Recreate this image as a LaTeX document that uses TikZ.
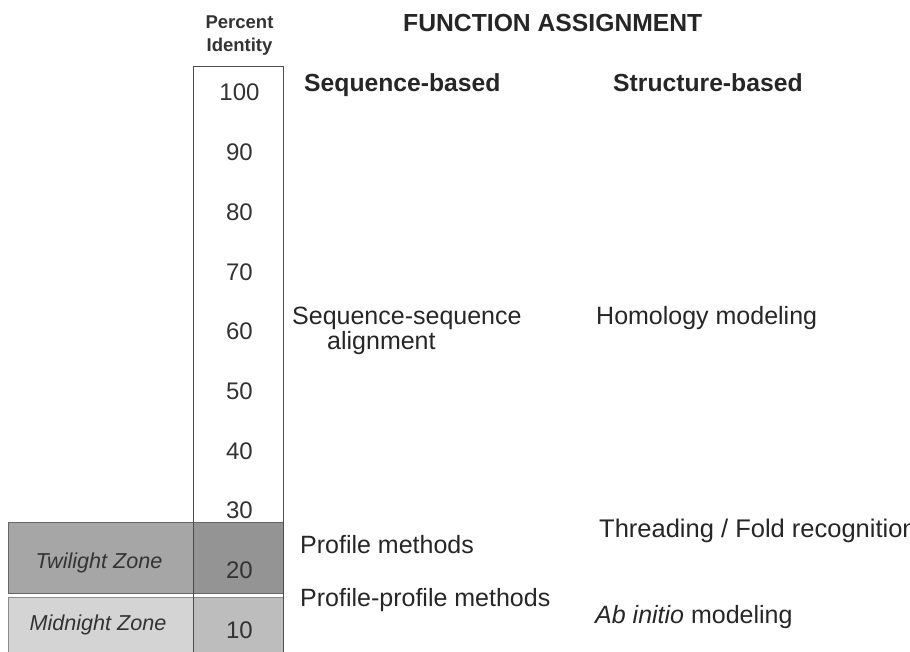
\documentclass[tikz,border=0pt]{standalone}
\usepackage{fontspec}
\setmainfont{Liberation Sans}
\begin{document}
\begin{tikzpicture}[x=1pt,y=-1pt,
  txt/.style={inner sep=0pt, anchor=base west, font=\fontsize{25}{29}\selectfont, text=black!85},
  hdr/.style={inner sep=0pt, anchor=base west, font=\fontsize{24.7}{29}\bfseries\selectfont, text=black!85},
  num/.style={inner sep=0pt, anchor=base, font=\fontsize{24}{28}\selectfont, text=black!80},
  zone/.style={inner sep=0pt, anchor=base, font=\fontsize{21.6}{26}\itshape\selectfont, text=black!80},
  frame/.style={draw=black!70, line width=0.9pt}]
\clip (0,0) rectangle (910,652);
\fill[white] (0,0) rectangle (910,652);

% identity scale column
\fill[white] (193,66) rectangle (283,660);
% zone bands
\fill[black!35] (8,522) rectangle (283,593);
\fill[black!42] (193,522) rectangle (283,593);
\fill[black!17] (8,597) rectangle (283,660);
\fill[black!26] (193,597) rectangle (283,660);
\draw[draw=black!60, line width=0.9pt] (8,522) rectangle (283,593);
\draw[draw=black!45, line width=0.9pt] (8,597) rectangle (283,660);
\draw[frame] (193,660) -- (193,66) -- (283,66) -- (283,660);

% column header
\node[inner sep=0pt, anchor=base, font=\fontsize{18.5}{23}\bfseries\selectfont, text=black!80] (pct) at (239.5,29) {Percent};
\node[inner sep=0pt, anchor=base, font=\fontsize{18.5}{23}\bfseries\selectfont, text=black!80] (idt) at (239.5,52) {Identity};
\node[hdr] (head) at (403,32) {FUNCTION ASSIGNMENT};

% scale values
\foreach \v [count=\i from 0] in {100,90,80,70,60,50,40,30,20,10}
  \node[num] (n\v) at (239.5,{101+59.67*\i}) {\v};

% method columns
\node[hdr] (seqb) at (304,92) {Sequence-based};
\node[hdr] (strb) at (613,92) {Structure-based};

\node[txt] (ssa) at (292,324) {Sequence-sequence};
\node[txt] (ali) at (327,349) {alignment};
\node[txt] (hom) at (596,324) {Homology modeling};

\node[txt] (prof) at (300,553) {Profile methods};
\node[txt] (pp) at (300,606) {Profile-profile methods};
\node[txt, font=\fontsize{25.5}{30}\selectfont] (thr) at (599,537) {Threading / Fold recognition};
\node[txt] (abi) at (595,623) {\textit{Ab initio} modeling};

% zone labels
\node[zone] (tw) at (99,568) {Twilight Zone};
\node[zone] (mn) at (98,630) {Midnight Zone};
\end{tikzpicture}
\end{document}
